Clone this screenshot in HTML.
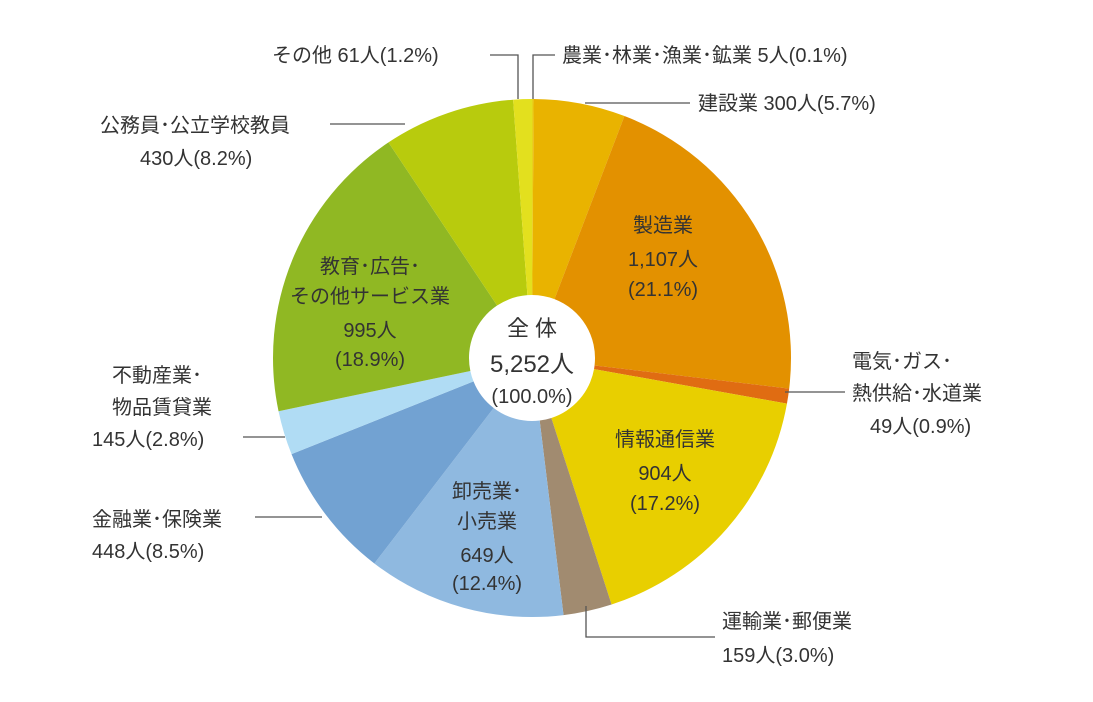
<!DOCTYPE html><html><head><meta charset="utf-8"><style>
body{margin:0;background:#fff;}
svg text{font-family:"Liberation Sans","Noto Sans CJK JP",sans-serif;fill:#333;font-size:20px}
</style></head><body>
<svg id="s" width="1093" height="697" xmlns="http://www.w3.org/2000/svg">
<g id="pie"></g>
<g stroke="#555" stroke-width="1.3" fill="none">
<polyline points="490,55 518,55 518,99"/>
<polyline points="533,99 533,55 555,55"/>
<line x1="585" y1="103" x2="690" y2="103"/>
<line x1="330" y1="124" x2="405" y2="124"/>
<line x1="785" y1="392" x2="845" y2="392"/>
<line x1="243" y1="437" x2="285" y2="437"/>
<line x1="255" y1="517" x2="322" y2="517"/>
<polyline points="586,606 586,637 715,637"/>
</g>
<text x="272" y="62">その他 61人(1.2%)</text>
<text x="562" y="62">農業･林業･漁業･鉱業 5人(0.1%)</text>
<text x="698" y="110">建設業 300人(5.7%)</text>
<text x="100" y="132">公務員･公立学校教員</text>
<text x="140" y="165">430人(8.2%)</text>
<text x="852" y="368">電気･ガス･</text>
<text x="852" y="400">熱供給･水道業</text>
<text x="870" y="433">49人(0.9%)</text>
<text x="112" y="382">不動産業･</text>
<text x="112" y="414">物品賃貸業</text>
<text x="92" y="446">145人(2.8%)</text>
<text x="92" y="526">金融業･保険業</text>
<text x="92" y="558">448人(8.5%)</text>
<text x="722" y="628">運輸業･郵便業</text>
<text x="722" y="662">159人(3.0%)</text>
<g text-anchor="middle">
<text x="663" y="232">製造業</text><text x="663" y="266">1,107人</text><text x="663" y="296">(21.1%)</text>
<text x="665" y="446">情報通信業</text><text x="665" y="480">904人</text><text x="665" y="510">(17.2%)</text>
<text x="487" y="498">卸売業･</text><text x="487" y="528">小売業</text><text x="487" y="562">649人</text><text x="487" y="590">(12.4%)</text>
<text x="370" y="273">教育･広告･</text><text x="370" y="303">その他サービス業</text><text x="370" y="337">995人</text><text x="370" y="366">(18.9%)</text>
<text x="532" y="336" style="font-size:22px">全 体</text>
<text x="532" y="372" style="font-size:24px">5,252人</text>
<text x="532" y="403">(100.0%)</text>
</g>
</svg>
<script>
var d=[[5,"#e8d21a"],[300,"#e9b300"],[1107,"#e39100"],[49,"#e06c12"],[904,"#e8cf00"],[159,"#a18b70"],[649,"#8fb9e0"],[448,"#72a2d2"],[145,"#b0dcf4"],[995,"#90b823"],[430,"#b8cb0d"],[61,"#e3e01e"]];
var T=5252,cx=532,cy=358,R=259,r=63,a=0,h="";
function p(rad,ang){return [cx+rad*Math.sin(ang),cy-rad*Math.cos(ang)];}
d.forEach(function(e){var a2=a+e[0]/T*2*Math.PI,l=(a2-a)>Math.PI?1:0;
var A=p(R,a),B=p(R,a2),C=p(r,a2),D=p(r,a);
h+='<path fill="'+e[1]+'" d="M'+A+' A'+R+','+R+' 0 '+l+' 1 '+B+' L'+C+' A'+r+','+r+' 0 '+l+' 0 '+D+'Z"/>';a=a2;});
document.getElementById("pie").innerHTML=h;
</script>
</body></html>
